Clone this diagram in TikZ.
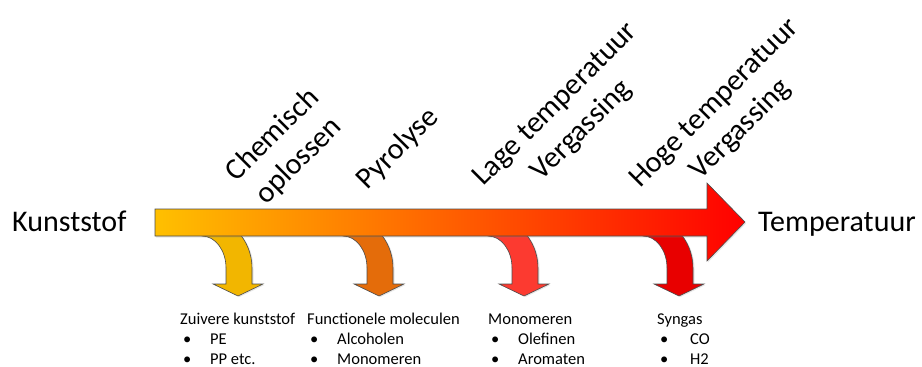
\documentclass[tikz,border=0pt]{standalone}
\usepackage{fontspec}
\setmainfont{Carlito}
\usetikzlibrary{shadows}

\definecolor{heatlow}{RGB}{255,192,0}
\definecolor{heathigh}{RGB}{255,0,0}
\definecolor{bendA}{RGB}{242,182,0}
\definecolor{bendB}{RGB}{228,108,10}
\definecolor{bendC}{RGB}{252,58,48}
\definecolor{bendD}{RGB}{232,0,0}

\begin{document}
\begin{tikzpicture}[x=1pt,y=-1pt,
				   every node/.style={inner sep=0pt},
				   edgeline/.style={draw=black!70, line width=0.6pt},
				   stage/.style={font=\fontsize{30}{37}\selectfont, rotate=45, align=center},
				   endtext/.style={font=\fontsize{30}{37}\selectfont, anchor=base west},
				   result/.style={font=\fontsize{16.5}{20}\selectfont, anchor=base west},
				   turnarrow/.pic={
				   	\filldraw[edgeline, fill=#1, drop shadow={opacity=0.2, shadow xshift=1.5pt, shadow yshift=-1pt}]
				   		(0,-20) .. controls (27.6,-20) and (50,3.3) .. (50,32) -- (50,48) -- (61,48)
				   		-- (36,60) -- (11,48) -- (24,48) -- (24,32)
				   		.. controls (24,14.3) and (13.2,0) .. (0,0) -- cycle;
				   }]

\useasboundingbox (0,0) rectangle (922,367);

% bent arrows under the bar
\pic (arrpure) at (202,236) {turnarrow=bendA};
\pic (arrfunc) at (343,236) {turnarrow=bendB};
\pic (arrmono) at (488,236) {turnarrow=bendC};
\pic (arrsyn) at (643,236) {turnarrow=bendD};

% temperature bar
\shadedraw[edgeline, left color=heatlow, right color=heathigh,
	drop shadow={opacity=0.2, shadow xshift=1pt, shadow yshift=-1.5pt}]
	(155,209) -- (707,209) -- (707,183) -- (745,222) -- (707,261) -- (707,236) -- (155,236) -- cycle;

\node[endtext] (start) at (12,231) {Kunststof};
\node[endtext] (end) at (758,231) {Temperatuur};

\node[stage] (chem) at (286,148) {Chemisch\\oplossen};
\node[stage] (pyro) at (398,149) {Pyrolyse};
\node[stage] (lowgas) at (569,118) {Lage temperatuur\\Vergassing};
\node[stage] (highgas) at (728,117) {Hoge temperatuur\\Vergassing};

% products
\node[result] (pure) at (180,324) {Zuivere kunststof};
\node[result] (pureA) at (183,344) {•};
\node[result] (pureAt) at (210,344) {PE};
\node[result] (pureB) at (183,364) {•};
\node[result] (pureBt) at (210,364) {PP etc.};

\node[result] (func) at (307,324) {Functionele moleculen};
\node[result] (funcA) at (310,344) {•};
\node[result] (funcAt) at (337,344) {Alcoholen};
\node[result] (funcB) at (310,364) {•};
\node[result] (funcBt) at (337,364) {Monomeren};

\node[result] (mono) at (488,324) {Monomeren};
\node[result] (monoA) at (491,344) {•};
\node[result] (monoAt) at (518,344) {Olefinen};
\node[result] (monoB) at (491,364) {•};
\node[result] (monoBt) at (518,364) {Aromaten};

\node[result] (syn) at (657,324) {Syngas};
\node[result] (synA) at (660,344) {•};
\node[result] (synAt) at (690,344) {CO};
\node[result] (synB) at (660,364) {•};
\node[result] (synBt) at (690,364) {H2};

\end{tikzpicture}
\end{document}
